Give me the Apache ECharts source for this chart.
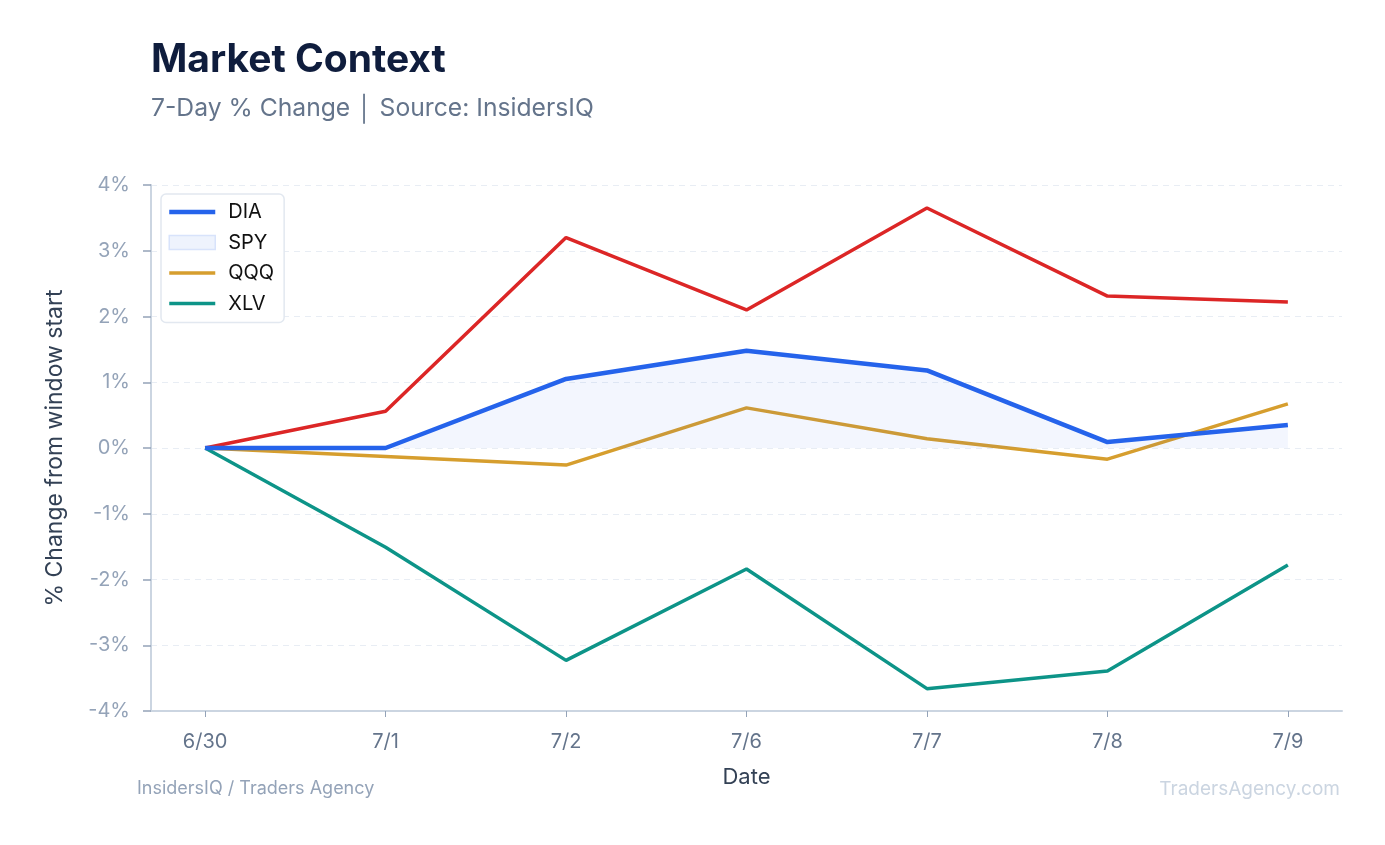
<!DOCTYPE html>
<html>
<head>
<meta charset="utf-8">
<title>Market Context</title>
<script src="https://cdn.jsdelivr.net/npm/echarts@6/dist/echarts.min.js"></script>
<style>
  html, body { margin: 0; padding: 0; background: #fff; }
  #chart { width: 1385px; height: 845px; }
</style>
</head>
<body>
<div id="chart"></div>
<script>
var dates = ['6/30', '7/1', '7/2', '7/6', '7/7', '7/8', '7/9'];
var dia = [0, 0, 1.05, 1.48, 1.18, 0.09, 0.35];
var spy = [0, 0.56, 3.20, 2.10, 3.65, 2.31, 2.22];
var qqq = [0, -0.13, -0.26, 0.61, 0.14, -0.17, 0.67];
var xlv = [0, -1.51, -3.23, -1.84, -3.66, -3.39, -1.78];

function pairs(arr) {
    var out = [];
    for (var i = 0; i < arr.length; i++) {
        out.push([i, arr[i]]);
    }
    return out;
}
var xIdx = [];
for (var i = 0; i < dates.length; i++) xIdx.push(i);

var font = 'Inter, "Noto Sans", sans-serif';
var chart = echarts.init(document.getElementById('chart'));

var option = {
    animation: false,
    textStyle: { fontFamily: font },
    title: [{
        text: 'Market Context',
        left: 151,
        top: 41,
        padding: 0,
        textStyle: { fontSize: 39, fontWeight: 'bold', color: '#0f1d3d', fontFamily: font }
    }, {
        text: '7-Day % Change \u2502 Source: InsidersIQ',
        left: 151,
        top: 96,
        padding: 0,
        textStyle: { fontSize: 24.7, fontWeight: 'normal', color: '#64748b', fontFamily: font }
    }],
    graphic: [{
        type: 'text',
        left: 137,
        top: 780,
        style: { text: 'InsidersIQ / Traders Agency', fontSize: 18, fill: '#94a3b8', fontFamily: font }
    }, {
        type: 'text',
        right: 45,
        top: 780,
        style: { text: 'TradersAgency.com', fontSize: 19, fill: '#cbd5e1', fontFamily: font }
    }],
    legend: {
        orient: 'vertical',
        left: 161,
        top: 194,
        padding: [8, 10, 9, 6],
        itemWidth: 46,
        itemHeight: 14,
        itemGap: 10.5,
        backgroundColor: '#fff',
        borderColor: '#e2e8f0',
        borderWidth: 1.5,
        borderRadius: 5,
        itemStyle: { opacity: 0 },
        lineStyle: { width: 3.5 },
        textStyle: { fontSize: 20, color: '#111', fontFamily: font, padding: [0, 0, 0, 8] },
        data: [
            { name: 'DIA', lineStyle: { width: 4.5 } },
            { name: 'SPY', icon: 'rect', itemStyle: { opacity: 1, color: '#eef3fd', borderColor: '#d8e3fb', borderWidth: 1.5 } },
            { name: 'QQQ' },
            { name: 'XLV' }
        ]
    },
    grid: {
        left: 151,
        right: 43,
        top: 185,
        bottom: 134
    },
    xAxis: {
        type: 'value',
        min: -0.3,
        max: 6.3,
        name: 'Date',
        nameLocation: 'middle',
        nameGap: 55,
        nameTextStyle: { fontSize: 22, color: '#334155', fontFamily: font },
        splitLine: { show: false },
        axisLine: { show: true, onZero: false, lineStyle: { color: '#cbd5e1', width: 2 } },
        axisTick: { show: true, customValues: xIdx, length: 6, lineStyle: { color: '#94a3b8', width: 1 } },
        axisLabel: {
            customValues: xIdx,
            fontSize: 20,
            color: '#64748b',
            margin: 21,
            fontFamily: font,
            formatter: function (v) { return dates[Math.round(v)]; }
        }
    },
    yAxis: {
        type: 'value',
        min: -4,
        max: 4,
        interval: 1,
        name: '% Change from window start',
        nameLocation: 'middle',
        nameGap: 84,
        nameTextStyle: { fontSize: 23, color: '#334155', fontFamily: font },
        axisLine: { show: true, onZero: false, lineStyle: { color: '#cbd5e1', width: 2 } },
        axisTick: { show: true, length: 8, lineStyle: { color: '#94a3b8', width: 1.5 } },
        axisLabel: {
            fontSize: 20,
            color: '#94a3b8',
            margin: 21,
            fontFamily: font,
            formatter: function (v) { return v + '%'; }
        },
        splitLine: { show: true, lineStyle: { color: '#e8edf4', type: [6, 5], width: 1 } }
    },
    series: [{
        name: 'DIA',
        type: 'line',
        symbol: 'none',
        color: '#2563eb',
        lineStyle: { width: 4.5, color: '#2563eb' },
        areaStyle: { color: 'rgba(37,99,235,0.08)' },
        z: 4,
        data: pairs(dia)
    }, {
        name: 'SPY',
        type: 'line',
        symbol: 'none',
        color: '#dc2626',
        lineStyle: { width: 3.5, color: '#dc2626' },
        z: 3,
        data: pairs(spy)
    }, {
        name: 'QQQ',
        type: 'line',
        symbol: 'none',
        color: '#d69e2e',
        lineStyle: { width: 3.5, color: '#d69e2e' },
        z: 3,
        data: pairs(qqq)
    }, {
        name: 'XLV',
        type: 'line',
        symbol: 'none',
        color: '#0d9488',
        lineStyle: { width: 3.5, color: '#0d9488' },
        z: 3,
        data: pairs(xlv)
    }]
};

chart.setOption(option);
</script>
</body>
</html>
